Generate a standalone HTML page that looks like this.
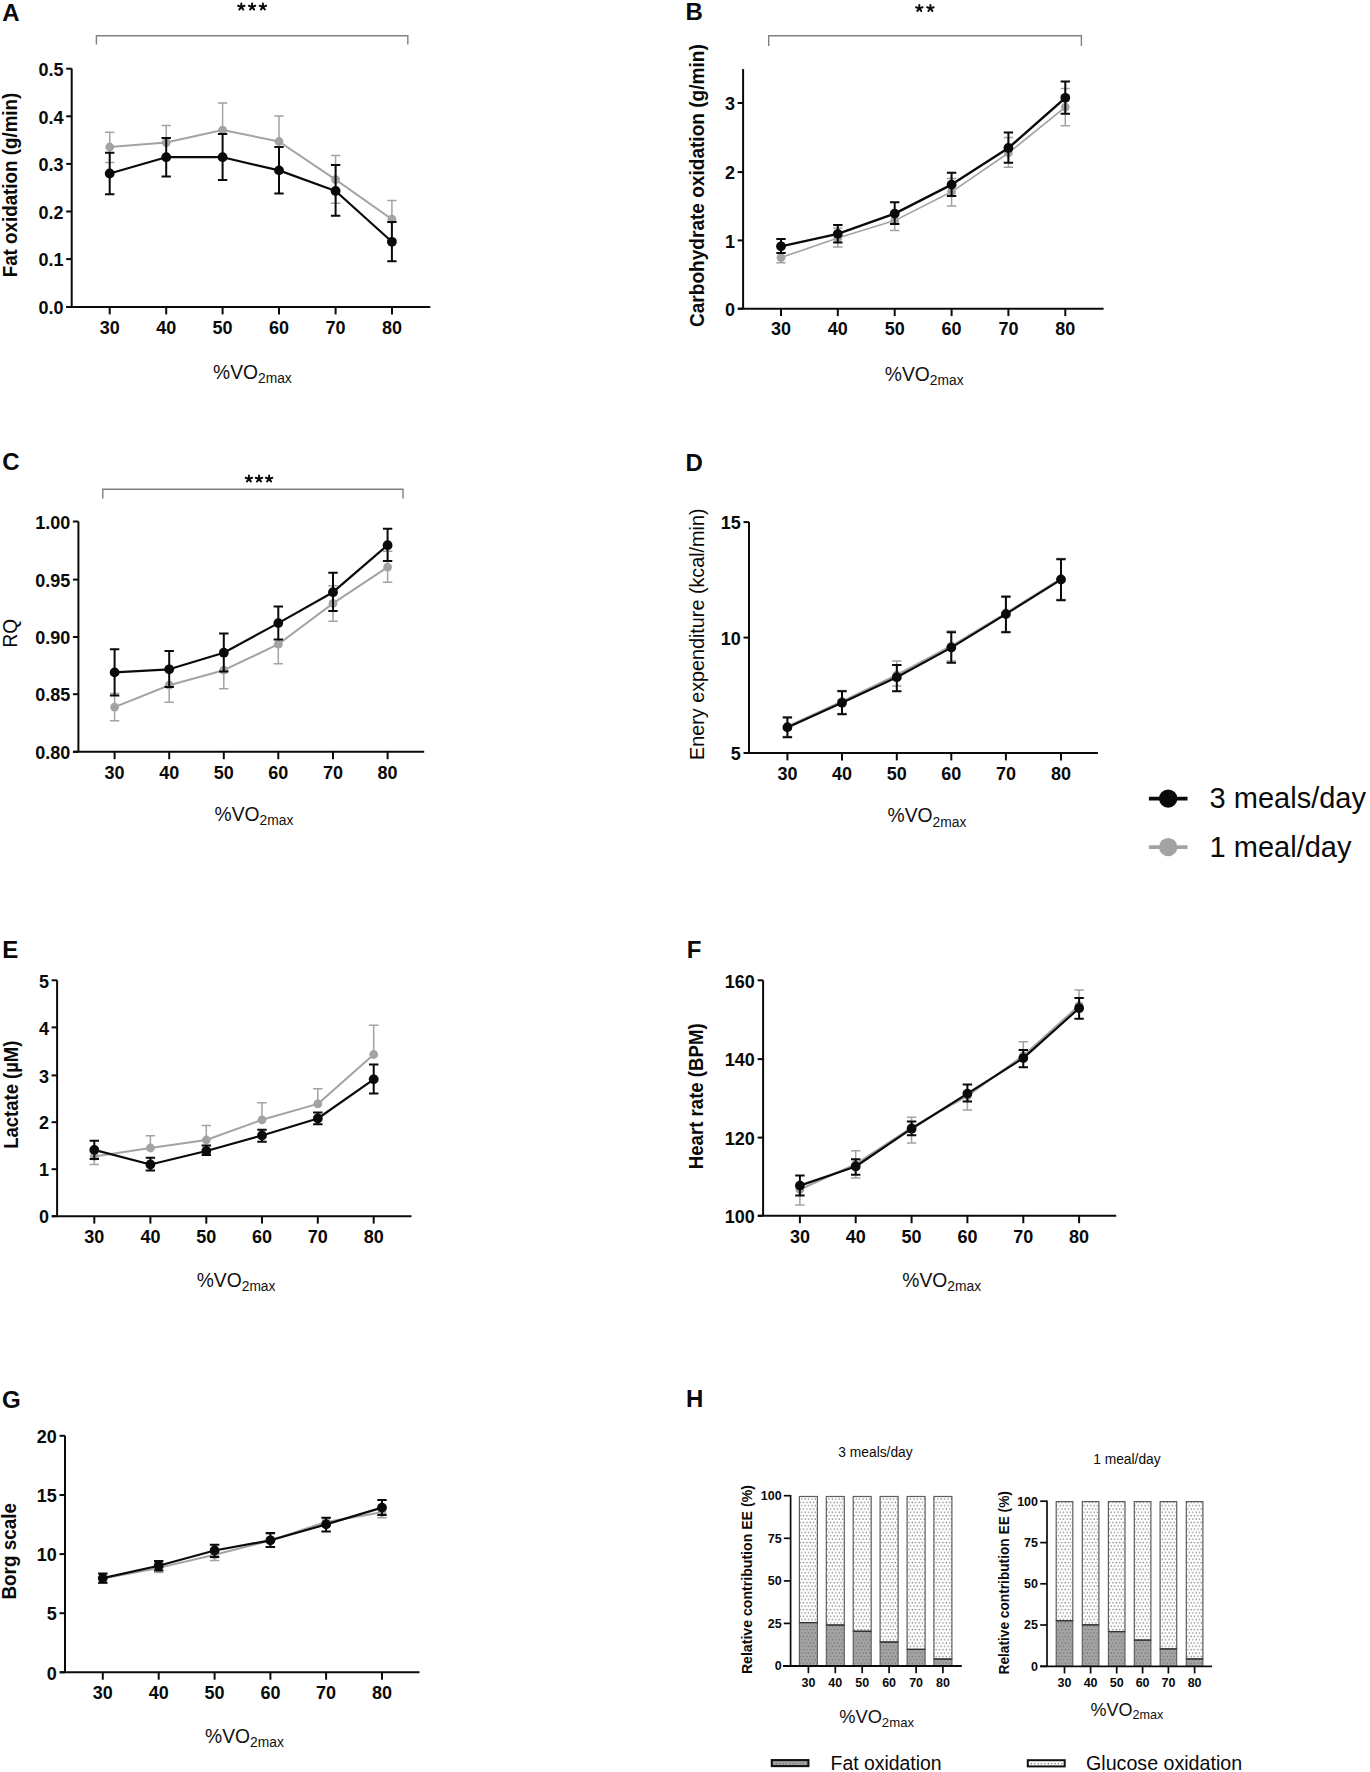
<!DOCTYPE html>
<html><head><meta charset="utf-8"><title>Figure</title>
<style>
html,body{margin:0;padding:0;background:#fff;width:1370px;height:1772px;overflow:hidden}
svg{display:block;font-family:"Liberation Sans",sans-serif}
</style></head><body>
<svg width="1370" height="1772" viewBox="0 0 1370 1772">
<rect width="1370" height="1772" fill="#ffffff"/>
<defs>
<pattern id="pg" x="0" y="0" width="3.4" height="6.7" patternUnits="userSpaceOnUse">
<rect width="3.4" height="6.7" fill="#ffffff"/>
<rect x="0.5" y="0.9" width="1.25" height="1.25" fill="#6e6e6e"/>
<rect x="2.2" y="4.25" width="1.25" height="1.25" fill="#6e6e6e"/>
</pattern>
<pattern id="pf" x="0" y="0" width="3.4" height="6.7" patternUnits="userSpaceOnUse">
<rect width="3.4" height="6.7" fill="#a4a4a4"/>
<rect x="0.5" y="0.9" width="1.2" height="1.2" fill="#6c6c6c"/>
<rect x="2.2" y="4.25" width="1.2" height="1.2" fill="#6c6c6c"/>
</pattern>
</defs>
<text x="686.0" y="1406.9" font-size="24" font-weight="700" text-anchor="start" fill="#0a0a0a" >H</text>
<rect x="799.4" y="1496.5" width="18.0" height="126.1" fill="url(#pg)" stroke="#5e5e5e" stroke-width="1.2"/>
<rect x="799.4" y="1622.6" width="18.0" height="43.4" fill="url(#pf)" stroke="#5a5a5a" stroke-width="1.1"/>
<path d="M799.4,1622.6 H817.4" stroke="#333" stroke-width="1.3"/>
<rect x="826.3" y="1496.5" width="18.0" height="128.6" fill="url(#pg)" stroke="#5e5e5e" stroke-width="1.2"/>
<rect x="826.3" y="1625.1" width="18.0" height="40.9" fill="url(#pf)" stroke="#5a5a5a" stroke-width="1.1"/>
<path d="M826.3,1625.1 H844.3" stroke="#333" stroke-width="1.3"/>
<rect x="853.2" y="1496.5" width="18.0" height="134.8" fill="url(#pg)" stroke="#5e5e5e" stroke-width="1.2"/>
<rect x="853.2" y="1631.3" width="18.0" height="34.7" fill="url(#pf)" stroke="#5a5a5a" stroke-width="1.1"/>
<path d="M853.2,1631.3 H871.2" stroke="#333" stroke-width="1.3"/>
<rect x="880.1" y="1496.5" width="18.0" height="145.6" fill="url(#pg)" stroke="#5e5e5e" stroke-width="1.2"/>
<rect x="880.1" y="1642.1" width="18.0" height="23.9" fill="url(#pf)" stroke="#5a5a5a" stroke-width="1.1"/>
<path d="M880.1,1642.1 H898.1" stroke="#333" stroke-width="1.3"/>
<rect x="907.1" y="1496.5" width="18.0" height="152.9" fill="url(#pg)" stroke="#5e5e5e" stroke-width="1.2"/>
<rect x="907.1" y="1649.4" width="18.0" height="16.6" fill="url(#pf)" stroke="#5a5a5a" stroke-width="1.1"/>
<path d="M907.1,1649.4 H925.1" stroke="#333" stroke-width="1.3"/>
<rect x="933.9" y="1496.5" width="18.0" height="162.6" fill="url(#pg)" stroke="#5e5e5e" stroke-width="1.2"/>
<rect x="933.9" y="1659.1" width="18.0" height="6.9" fill="url(#pf)" stroke="#5a5a5a" stroke-width="1.1"/>
<path d="M933.9,1659.1 H951.9" stroke="#333" stroke-width="1.3"/>
<path d="M790.6,1495.0 V1666.0" stroke="#0a0a0a" stroke-width="1.7" fill="none"/>
<path d="M783.0,1666.0 H961.8" stroke="#0a0a0a" stroke-width="1.8" fill="none"/>
<path d="M783.8,1495.7 H790.6" stroke="#0a0a0a" stroke-width="1.7"/>
<text x="781.6" y="1500.0" font-size="12.5" font-weight="700" text-anchor="end" fill="#0a0a0a" >100</text>
<path d="M783.8,1538.3 H790.6" stroke="#0a0a0a" stroke-width="1.7"/>
<text x="781.6" y="1542.6" font-size="12.5" font-weight="700" text-anchor="end" fill="#0a0a0a" >75</text>
<path d="M783.8,1580.9 H790.6" stroke="#0a0a0a" stroke-width="1.7"/>
<text x="781.6" y="1585.2" font-size="12.5" font-weight="700" text-anchor="end" fill="#0a0a0a" >50</text>
<path d="M783.8,1623.4 H790.6" stroke="#0a0a0a" stroke-width="1.7"/>
<text x="781.6" y="1627.7" font-size="12.5" font-weight="700" text-anchor="end" fill="#0a0a0a" >25</text>
<path d="M783.8,1666.0 H790.6" stroke="#0a0a0a" stroke-width="1.7"/>
<text x="781.6" y="1670.3" font-size="12.5" font-weight="700" text-anchor="end" fill="#0a0a0a" >0</text>
<path d="M808.4,1666.0 V1673.2" stroke="#0a0a0a" stroke-width="1.7"/>
<text x="808.4" y="1686.8" font-size="12.5" font-weight="700" text-anchor="middle" fill="#0a0a0a" >30</text>
<path d="M835.3,1666.0 V1673.2" stroke="#0a0a0a" stroke-width="1.7"/>
<text x="835.3" y="1686.8" font-size="12.5" font-weight="700" text-anchor="middle" fill="#0a0a0a" >40</text>
<path d="M862.2,1666.0 V1673.2" stroke="#0a0a0a" stroke-width="1.7"/>
<text x="862.2" y="1686.8" font-size="12.5" font-weight="700" text-anchor="middle" fill="#0a0a0a" >50</text>
<path d="M889.1,1666.0 V1673.2" stroke="#0a0a0a" stroke-width="1.7"/>
<text x="889.1" y="1686.8" font-size="12.5" font-weight="700" text-anchor="middle" fill="#0a0a0a" >60</text>
<path d="M916.1,1666.0 V1673.2" stroke="#0a0a0a" stroke-width="1.7"/>
<text x="916.1" y="1686.8" font-size="12.5" font-weight="700" text-anchor="middle" fill="#0a0a0a" >70</text>
<path d="M942.9,1666.0 V1673.2" stroke="#0a0a0a" stroke-width="1.7"/>
<text x="942.9" y="1686.8" font-size="12.5" font-weight="700" text-anchor="middle" fill="#0a0a0a" >80</text>
<text x="838.3" y="1457.1" font-size="13.8" font-weight="400" text-anchor="start" fill="#0a0a0a" >3 meals/day</text>
<text x="752.3" y="1579.6" font-size="14.2" font-weight="700" text-anchor="middle" fill="#0a0a0a" transform="rotate(-90 752.3 1579.6)" textLength="189" lengthAdjust="spacingAndGlyphs">Relative contribution EE (%)</text>
<text x="839.2" y="1723.0" font-size="18.3" fill="#111">%VO<tspan font-size="13.2" dy="4.1">2max</tspan></text>
<rect x="1056.2" y="1501.6" width="16.6" height="119.1" fill="url(#pg)" stroke="#5e5e5e" stroke-width="1.2"/>
<rect x="1056.2" y="1620.7" width="16.6" height="45.6" fill="url(#pf)" stroke="#5a5a5a" stroke-width="1.1"/>
<path d="M1056.2,1620.7 H1072.8" stroke="#333" stroke-width="1.3"/>
<rect x="1082.3" y="1501.6" width="16.6" height="123.3" fill="url(#pg)" stroke="#5e5e5e" stroke-width="1.2"/>
<rect x="1082.3" y="1624.9" width="16.6" height="41.4" fill="url(#pf)" stroke="#5a5a5a" stroke-width="1.1"/>
<path d="M1082.3,1624.9 H1098.9" stroke="#333" stroke-width="1.3"/>
<rect x="1108.4" y="1501.6" width="16.6" height="130.0" fill="url(#pg)" stroke="#5e5e5e" stroke-width="1.2"/>
<rect x="1108.4" y="1631.6" width="16.6" height="34.7" fill="url(#pf)" stroke="#5a5a5a" stroke-width="1.1"/>
<path d="M1108.4,1631.6 H1125.0" stroke="#333" stroke-width="1.3"/>
<rect x="1134.3" y="1501.6" width="16.6" height="138.6" fill="url(#pg)" stroke="#5e5e5e" stroke-width="1.2"/>
<rect x="1134.3" y="1640.2" width="16.6" height="26.1" fill="url(#pf)" stroke="#5a5a5a" stroke-width="1.1"/>
<path d="M1134.3,1640.2 H1150.9" stroke="#333" stroke-width="1.3"/>
<rect x="1160.1" y="1501.6" width="16.6" height="147.4" fill="url(#pg)" stroke="#5e5e5e" stroke-width="1.2"/>
<rect x="1160.1" y="1649.0" width="16.6" height="17.3" fill="url(#pf)" stroke="#5a5a5a" stroke-width="1.1"/>
<path d="M1160.1,1649.0 H1176.7" stroke="#333" stroke-width="1.3"/>
<rect x="1186.3" y="1501.6" width="16.6" height="157.4" fill="url(#pg)" stroke="#5e5e5e" stroke-width="1.2"/>
<rect x="1186.3" y="1659.0" width="16.6" height="7.3" fill="url(#pf)" stroke="#5a5a5a" stroke-width="1.1"/>
<path d="M1186.3,1659.0 H1202.9" stroke="#333" stroke-width="1.3"/>
<path d="M1047.0,1500.4 V1666.3" stroke="#0a0a0a" stroke-width="1.7" fill="none"/>
<path d="M1040.2,1666.3 H1212.1" stroke="#0a0a0a" stroke-width="1.8" fill="none"/>
<path d="M1040.2,1501.2 H1047.0" stroke="#0a0a0a" stroke-width="1.7"/>
<text x="1038.0" y="1505.5" font-size="12.5" font-weight="700" text-anchor="end" fill="#0a0a0a" >100</text>
<path d="M1040.2,1542.6 H1047.0" stroke="#0a0a0a" stroke-width="1.7"/>
<text x="1038.0" y="1546.9" font-size="12.5" font-weight="700" text-anchor="end" fill="#0a0a0a" >75</text>
<path d="M1040.2,1583.8 H1047.0" stroke="#0a0a0a" stroke-width="1.7"/>
<text x="1038.0" y="1588.1" font-size="12.5" font-weight="700" text-anchor="end" fill="#0a0a0a" >50</text>
<path d="M1040.2,1625.0 H1047.0" stroke="#0a0a0a" stroke-width="1.7"/>
<text x="1038.0" y="1629.3" font-size="12.5" font-weight="700" text-anchor="end" fill="#0a0a0a" >25</text>
<path d="M1040.2,1666.3 H1047.0" stroke="#0a0a0a" stroke-width="1.7"/>
<text x="1038.0" y="1670.6" font-size="12.5" font-weight="700" text-anchor="end" fill="#0a0a0a" >0</text>
<path d="M1064.5,1666.3 V1673.5" stroke="#0a0a0a" stroke-width="1.7"/>
<text x="1064.5" y="1687.1" font-size="12.5" font-weight="700" text-anchor="middle" fill="#0a0a0a" >30</text>
<path d="M1090.6,1666.3 V1673.5" stroke="#0a0a0a" stroke-width="1.7"/>
<text x="1090.6" y="1687.1" font-size="12.5" font-weight="700" text-anchor="middle" fill="#0a0a0a" >40</text>
<path d="M1116.7,1666.3 V1673.5" stroke="#0a0a0a" stroke-width="1.7"/>
<text x="1116.7" y="1687.1" font-size="12.5" font-weight="700" text-anchor="middle" fill="#0a0a0a" >50</text>
<path d="M1142.6,1666.3 V1673.5" stroke="#0a0a0a" stroke-width="1.7"/>
<text x="1142.6" y="1687.1" font-size="12.5" font-weight="700" text-anchor="middle" fill="#0a0a0a" >60</text>
<path d="M1168.4,1666.3 V1673.5" stroke="#0a0a0a" stroke-width="1.7"/>
<text x="1168.4" y="1687.1" font-size="12.5" font-weight="700" text-anchor="middle" fill="#0a0a0a" >70</text>
<path d="M1194.6,1666.3 V1673.5" stroke="#0a0a0a" stroke-width="1.7"/>
<text x="1194.6" y="1687.1" font-size="12.5" font-weight="700" text-anchor="middle" fill="#0a0a0a" >80</text>
<text x="1093.2" y="1463.8" font-size="13.8" font-weight="400" text-anchor="start" fill="#0a0a0a" >1 meal/day</text>
<text x="1009.5" y="1582.8" font-size="13.9" font-weight="700" text-anchor="middle" fill="#0a0a0a" transform="rotate(-90 1009.5 1582.8)" textLength="183.4" lengthAdjust="spacingAndGlyphs">Relative contribution EE (%)</text>
<text x="1090.4" y="1716.0" font-size="18" fill="#111">%VO<tspan font-size="12.6" dy="3.4">2max</tspan></text>
<rect x="771.8" y="1760.1" width="36.6" height="6.0" fill="url(#pf)" stroke="#111" stroke-width="2.1"/>
<text x="830.6" y="1769.7" font-size="19.4" font-weight="400" text-anchor="start" fill="#0a0a0a" >Fat oxidation</text>
<rect x="1027.8" y="1760.2" width="36.9" height="6.2" fill="url(#pg)" stroke="#111" stroke-width="2.0"/>
<text x="1086.0" y="1769.7" font-size="19.65" font-weight="400" text-anchor="start" fill="#0a0a0a" >Glucose oxidation</text>
<text x="2.2" y="20.5" font-size="24" font-weight="700" text-anchor="start" fill="#0a0a0a" >A</text>
<path d="M96.4,44.5 V35.7 H407.8 V44.5" stroke="#808080" stroke-width="1.4" fill="none"/>
<path d="M241.30,6.80 L241.30,3.35 M241.30,6.80 L238.02,5.73 M241.30,6.80 L239.27,9.59 M241.30,6.80 L243.33,9.59 M241.30,6.80 L244.58,5.73" stroke="#0a0a0a" stroke-width="1.9" stroke-linecap="round" fill="none"/>
<path d="M252.10,6.80 L252.10,3.35 M252.10,6.80 L248.82,5.73 M252.10,6.80 L250.07,9.59 M252.10,6.80 L254.13,9.59 M252.10,6.80 L255.38,5.73" stroke="#0a0a0a" stroke-width="1.9" stroke-linecap="round" fill="none"/>
<path d="M262.90,6.80 L262.90,3.35 M262.90,6.80 L259.62,5.73 M262.90,6.80 L260.87,9.59 M262.90,6.80 L264.93,9.59 M262.90,6.80 L266.18,5.73" stroke="#0a0a0a" stroke-width="1.9" stroke-linecap="round" fill="none"/>
<path d="M71.7,68.5 V307.0" stroke="#0a0a0a" stroke-width="2" fill="none"/>
<path d="M66.2,307.0 H430.3" stroke="#0a0a0a" stroke-width="2" fill="none"/>
<path d="M66.2,68.7 H71.7" stroke="#0a0a0a" stroke-width="2"/>
<text x="63.5" y="75.9" font-size="18" font-weight="700" text-anchor="end" fill="#0a0a0a" >0.5</text>
<path d="M66.2,116.3 H71.7" stroke="#0a0a0a" stroke-width="2"/>
<text x="63.5" y="123.5" font-size="18" font-weight="700" text-anchor="end" fill="#0a0a0a" >0.4</text>
<path d="M66.2,163.9 H71.7" stroke="#0a0a0a" stroke-width="2"/>
<text x="63.5" y="171.1" font-size="18" font-weight="700" text-anchor="end" fill="#0a0a0a" >0.3</text>
<path d="M66.2,211.5 H71.7" stroke="#0a0a0a" stroke-width="2"/>
<text x="63.5" y="218.7" font-size="18" font-weight="700" text-anchor="end" fill="#0a0a0a" >0.2</text>
<path d="M66.2,259.1 H71.7" stroke="#0a0a0a" stroke-width="2"/>
<text x="63.5" y="266.3" font-size="18" font-weight="700" text-anchor="end" fill="#0a0a0a" >0.1</text>
<path d="M66.2,307.0 H71.7" stroke="#0a0a0a" stroke-width="2"/>
<text x="63.5" y="314.2" font-size="18" font-weight="700" text-anchor="end" fill="#0a0a0a" >0.0</text>
<path d="M109.7,307.0 V314.4" stroke="#0a0a0a" stroke-width="2"/>
<text x="109.7" y="333.7" font-size="18" font-weight="700" text-anchor="middle" fill="#0a0a0a" >30</text>
<path d="M166.2,307.0 V314.4" stroke="#0a0a0a" stroke-width="2"/>
<text x="166.2" y="333.7" font-size="18" font-weight="700" text-anchor="middle" fill="#0a0a0a" >40</text>
<path d="M222.6,307.0 V314.4" stroke="#0a0a0a" stroke-width="2"/>
<text x="222.6" y="333.7" font-size="18" font-weight="700" text-anchor="middle" fill="#0a0a0a" >50</text>
<path d="M279.0,307.0 V314.4" stroke="#0a0a0a" stroke-width="2"/>
<text x="279.0" y="333.7" font-size="18" font-weight="700" text-anchor="middle" fill="#0a0a0a" >60</text>
<path d="M335.6,307.0 V314.4" stroke="#0a0a0a" stroke-width="2"/>
<text x="335.6" y="333.7" font-size="18" font-weight="700" text-anchor="middle" fill="#0a0a0a" >70</text>
<path d="M392.0,307.0 V314.4" stroke="#0a0a0a" stroke-width="2"/>
<text x="392.0" y="333.7" font-size="18" font-weight="700" text-anchor="middle" fill="#0a0a0a" >80</text>
<path d="M109.7,147.0 V132.2 M105.0,132.2 H114.4 M109.7,147.0 V162.4 M105.0,162.4 H114.4" stroke="#a3a3a3" stroke-width="1.5" fill="none"/>
<path d="M166.2,142.6 V125.4 M161.5,125.4 H170.9" stroke="#a3a3a3" stroke-width="1.5" fill="none"/>
<path d="M222.6,130.1 V103.0 M217.9,103.0 H227.3" stroke="#a3a3a3" stroke-width="1.5" fill="none"/>
<path d="M279.0,141.5 V116.1 M274.3,116.1 H283.7" stroke="#a3a3a3" stroke-width="1.5" fill="none"/>
<path d="M335.6,179.6 V155.4 M330.9,155.4 H340.3 M335.6,179.6 V203.2 M330.9,203.2 H340.3" stroke="#a3a3a3" stroke-width="1.5" fill="none"/>
<path d="M391.9,219.2 V200.4 M387.2,200.4 H396.6" stroke="#a3a3a3" stroke-width="1.5" fill="none"/>
<path d="M109.7,147.0 L166.2,142.6 L222.6,130.1 L279.0,141.5 L335.6,179.6 L391.9,219.2" stroke="#a3a3a3" stroke-width="2.0" fill="none" stroke-linejoin="round"/>
<circle cx="109.7" cy="147.0" r="4.4" fill="#a3a3a3"/>
<circle cx="166.2" cy="142.6" r="4.4" fill="#a3a3a3"/>
<circle cx="222.6" cy="130.1" r="4.4" fill="#a3a3a3"/>
<circle cx="279.0" cy="141.5" r="4.4" fill="#a3a3a3"/>
<circle cx="335.6" cy="179.6" r="4.4" fill="#a3a3a3"/>
<circle cx="391.9" cy="219.2" r="4.4" fill="#a3a3a3"/>
<path d="M109.7,173.5 V152.7 M105.0,152.7 H114.4 M109.7,173.5 V194.3 M105.0,194.3 H114.4" stroke="#0a0a0a" stroke-width="2.0" fill="none"/>
<path d="M166.2,157.2 V138.1 M161.5,138.1 H170.9 M166.2,157.2 V176.4 M161.5,176.4 H170.9" stroke="#0a0a0a" stroke-width="2.0" fill="none"/>
<path d="M222.6,157.2 V134.1 M217.9,134.1 H227.3 M222.6,157.2 V179.9 M217.9,179.9 H227.3" stroke="#0a0a0a" stroke-width="2.0" fill="none"/>
<path d="M279.0,170.4 V147.0 M274.3,147.0 H283.7 M279.0,170.4 V193.4 M274.3,193.4 H283.7" stroke="#0a0a0a" stroke-width="2.0" fill="none"/>
<path d="M335.6,191.0 V165.1 M330.9,165.1 H340.3 M335.6,191.0 V215.7 M330.9,215.7 H340.3" stroke="#0a0a0a" stroke-width="2.0" fill="none"/>
<path d="M391.9,241.8 V221.9 M387.2,221.9 H396.6 M391.9,241.8 V261.2 M387.2,261.2 H396.6" stroke="#0a0a0a" stroke-width="2.0" fill="none"/>
<path d="M109.7,173.5 L166.2,157.2 L222.6,157.2 L279.0,170.4 L335.6,191.0 L391.9,241.8" stroke="#0a0a0a" stroke-width="2.2" fill="none" stroke-linejoin="round"/>
<circle cx="109.7" cy="173.5" r="4.9" fill="#0a0a0a"/>
<circle cx="166.2" cy="157.2" r="4.9" fill="#0a0a0a"/>
<circle cx="222.6" cy="157.2" r="4.9" fill="#0a0a0a"/>
<circle cx="279.0" cy="170.4" r="4.9" fill="#0a0a0a"/>
<circle cx="335.6" cy="191.0" r="4.9" fill="#0a0a0a"/>
<circle cx="391.9" cy="241.8" r="4.9" fill="#0a0a0a"/>
<text x="16.9" y="185.0" font-size="20" font-weight="700" text-anchor="middle" fill="#0a0a0a" transform="rotate(-90 16.9 185.0)" textLength="184.6" lengthAdjust="spacingAndGlyphs">Fat oxidation (g/min)</text>
<text x="213.0" y="378.5" font-size="19.3" fill="#111">%VO<tspan font-size="13.8" dy="4.3">2max</tspan></text>
<text x="685.5" y="19.7" font-size="24" font-weight="700" text-anchor="start" fill="#0a0a0a" >B</text>
<path d="M768.7,46.0 V35.7 H1081.4 V46.0" stroke="#808080" stroke-width="1.4" fill="none"/>
<path d="M919.30,8.30 L919.30,4.85 M919.30,8.30 L916.02,7.23 M919.30,8.30 L917.27,11.09 M919.30,8.30 L921.33,11.09 M919.30,8.30 L922.58,7.23" stroke="#0a0a0a" stroke-width="1.9" stroke-linecap="round" fill="none"/>
<path d="M930.40,8.30 L930.40,4.85 M930.40,8.30 L927.12,7.23 M930.40,8.30 L928.37,11.09 M930.40,8.30 L932.43,11.09 M930.40,8.30 L933.68,7.23" stroke="#0a0a0a" stroke-width="1.9" stroke-linecap="round" fill="none"/>
<path d="M743.1,69.1 V308.7" stroke="#0a0a0a" stroke-width="2" fill="none"/>
<path d="M738.1,308.7 H1103.6" stroke="#0a0a0a" stroke-width="2" fill="none"/>
<path d="M737.6,103.0 H743.1" stroke="#0a0a0a" stroke-width="2"/>
<text x="734.9" y="110.2" font-size="18" font-weight="700" text-anchor="end" fill="#0a0a0a" >3</text>
<path d="M737.6,172.1 H743.1" stroke="#0a0a0a" stroke-width="2"/>
<text x="734.9" y="179.3" font-size="18" font-weight="700" text-anchor="end" fill="#0a0a0a" >2</text>
<path d="M737.6,240.4 H743.1" stroke="#0a0a0a" stroke-width="2"/>
<text x="734.9" y="247.6" font-size="18" font-weight="700" text-anchor="end" fill="#0a0a0a" >1</text>
<path d="M737.6,308.7 H743.1" stroke="#0a0a0a" stroke-width="2"/>
<text x="734.9" y="315.9" font-size="18" font-weight="700" text-anchor="end" fill="#0a0a0a" >0</text>
<path d="M781.0,308.7 V316.1" stroke="#0a0a0a" stroke-width="2"/>
<text x="781.0" y="335.4" font-size="18" font-weight="700" text-anchor="middle" fill="#0a0a0a" >30</text>
<path d="M837.8,308.7 V316.1" stroke="#0a0a0a" stroke-width="2"/>
<text x="837.8" y="335.4" font-size="18" font-weight="700" text-anchor="middle" fill="#0a0a0a" >40</text>
<path d="M894.7,308.7 V316.1" stroke="#0a0a0a" stroke-width="2"/>
<text x="894.7" y="335.4" font-size="18" font-weight="700" text-anchor="middle" fill="#0a0a0a" >50</text>
<path d="M951.6,308.7 V316.1" stroke="#0a0a0a" stroke-width="2"/>
<text x="951.6" y="335.4" font-size="18" font-weight="700" text-anchor="middle" fill="#0a0a0a" >60</text>
<path d="M1008.4,308.7 V316.1" stroke="#0a0a0a" stroke-width="2"/>
<text x="1008.4" y="335.4" font-size="18" font-weight="700" text-anchor="middle" fill="#0a0a0a" >70</text>
<path d="M1065.3,308.7 V316.1" stroke="#0a0a0a" stroke-width="2"/>
<text x="1065.3" y="335.4" font-size="18" font-weight="700" text-anchor="middle" fill="#0a0a0a" >80</text>
<path d="M781.0,257.6 V262.7 M776.3,262.7 H785.7" stroke="#a3a3a3" stroke-width="1.5" fill="none"/>
<path d="M837.8,238.1 V228.0 M833.1,228.0 H842.5 M837.8,238.1 V247.0 M833.1,247.0 H842.5" stroke="#a3a3a3" stroke-width="1.5" fill="none"/>
<path d="M894.7,220.6 V230.6 M890.0,230.6 H899.4" stroke="#a3a3a3" stroke-width="1.5" fill="none"/>
<path d="M951.6,191.8 V178.6 M946.9,178.6 H956.3 M951.6,191.8 V206.0 M946.9,206.0 H956.3" stroke="#a3a3a3" stroke-width="1.5" fill="none"/>
<path d="M1008.4,153.0 V137.6 M1003.7,137.6 H1013.1 M1008.4,153.0 V167.3 M1003.7,167.3 H1013.1" stroke="#a3a3a3" stroke-width="1.5" fill="none"/>
<path d="M1065.3,107.1 V88.6 M1060.6,88.6 H1070.0 M1065.3,107.1 V125.7 M1060.6,125.7 H1070.0" stroke="#a3a3a3" stroke-width="1.5" fill="none"/>
<path d="M781.0,257.6 L837.8,238.1 L894.7,220.6 L951.6,191.8 L1008.4,153.0 L1065.3,107.1" stroke="#a3a3a3" stroke-width="1.6" fill="none" stroke-linejoin="round"/>
<circle cx="781.0" cy="257.6" r="4.4" fill="#a3a3a3"/>
<circle cx="837.8" cy="238.1" r="4.4" fill="#a3a3a3"/>
<circle cx="894.7" cy="220.6" r="4.4" fill="#a3a3a3"/>
<circle cx="951.6" cy="191.8" r="4.4" fill="#a3a3a3"/>
<circle cx="1008.4" cy="153.0" r="4.4" fill="#a3a3a3"/>
<circle cx="1065.3" cy="107.1" r="4.4" fill="#a3a3a3"/>
<path d="M781.0,246.3 V239.0 M776.3,239.0 H785.7 M781.0,246.3 V253.0 M776.3,253.0 H785.7" stroke="#0a0a0a" stroke-width="2.0" fill="none"/>
<path d="M837.8,233.9 V225.1 M833.1,225.1 H842.5 M837.8,233.9 V242.4 M833.1,242.4 H842.5" stroke="#0a0a0a" stroke-width="2.0" fill="none"/>
<path d="M894.7,213.6 V202.3 M890.0,202.3 H899.4 M894.7,213.6 V223.9 M890.0,223.9 H899.4" stroke="#0a0a0a" stroke-width="2.0" fill="none"/>
<path d="M951.6,184.6 V172.8 M946.9,172.8 H956.3 M951.6,184.6 V196.0 M946.9,196.0 H956.3" stroke="#0a0a0a" stroke-width="2.0" fill="none"/>
<path d="M1008.4,148.0 V132.4 M1003.7,132.4 H1013.1 M1008.4,148.0 V162.7 M1003.7,162.7 H1013.1" stroke="#0a0a0a" stroke-width="2.0" fill="none"/>
<path d="M1065.3,97.8 V81.5 M1060.6,81.5 H1070.0 M1065.3,97.8 V113.8 M1060.6,113.8 H1070.0" stroke="#0a0a0a" stroke-width="2.0" fill="none"/>
<path d="M781.0,246.3 L837.8,233.9 L894.7,213.6 L951.6,184.6 L1008.4,148.0 L1065.3,97.8" stroke="#0a0a0a" stroke-width="2.4" fill="none" stroke-linejoin="round"/>
<circle cx="781.0" cy="246.3" r="4.9" fill="#0a0a0a"/>
<circle cx="837.8" cy="233.9" r="4.9" fill="#0a0a0a"/>
<circle cx="894.7" cy="213.6" r="4.9" fill="#0a0a0a"/>
<circle cx="951.6" cy="184.6" r="4.9" fill="#0a0a0a"/>
<circle cx="1008.4" cy="148.0" r="4.9" fill="#0a0a0a"/>
<circle cx="1065.3" cy="97.8" r="4.9" fill="#0a0a0a"/>
<text x="703.6" y="185.6" font-size="20" font-weight="700" text-anchor="middle" fill="#0a0a0a" transform="rotate(-90 703.6 185.6)" textLength="282.8" lengthAdjust="spacingAndGlyphs">Carbohydrate oxidation (g/min)</text>
<text x="884.8" y="380.5" font-size="19.3" fill="#111">%VO<tspan font-size="13.8" dy="4.3">2max</tspan></text>
<text x="2.2" y="470.0" font-size="24" font-weight="700" text-anchor="start" fill="#0a0a0a" >C</text>
<path d="M102.8,498.5 V489.3 H403.0 V498.5" stroke="#808080" stroke-width="1.4" fill="none"/>
<path d="M248.90,478.80 L248.90,475.35 M248.90,478.80 L245.62,477.73 M248.90,478.80 L246.87,481.59 M248.90,478.80 L250.93,481.59 M248.90,478.80 L252.18,477.73" stroke="#0a0a0a" stroke-width="1.9" stroke-linecap="round" fill="none"/>
<path d="M259.00,478.80 L259.00,475.35 M259.00,478.80 L255.72,477.73 M259.00,478.80 L256.97,481.59 M259.00,478.80 L261.03,481.59 M259.00,478.80 L262.28,477.73" stroke="#0a0a0a" stroke-width="1.9" stroke-linecap="round" fill="none"/>
<path d="M269.10,478.80 L269.10,475.35 M269.10,478.80 L265.82,477.73 M269.10,478.80 L267.07,481.59 M269.10,478.80 L271.13,481.59 M269.10,478.80 L272.38,477.73" stroke="#0a0a0a" stroke-width="1.9" stroke-linecap="round" fill="none"/>
<path d="M78.4,521.5 V751.8" stroke="#0a0a0a" stroke-width="2" fill="none"/>
<path d="M73.0,751.8 H424.2" stroke="#0a0a0a" stroke-width="2" fill="none"/>
<path d="M72.9,521.5 H78.4" stroke="#0a0a0a" stroke-width="2"/>
<text x="70.2" y="528.7" font-size="18" font-weight="700" text-anchor="end" fill="#0a0a0a" >1.00</text>
<path d="M72.9,579.6 H78.4" stroke="#0a0a0a" stroke-width="2"/>
<text x="70.2" y="586.8" font-size="18" font-weight="700" text-anchor="end" fill="#0a0a0a" >0.95</text>
<path d="M72.9,637.0 H78.4" stroke="#0a0a0a" stroke-width="2"/>
<text x="70.2" y="644.2" font-size="18" font-weight="700" text-anchor="end" fill="#0a0a0a" >0.90</text>
<path d="M72.9,694.2 H78.4" stroke="#0a0a0a" stroke-width="2"/>
<text x="70.2" y="701.4" font-size="18" font-weight="700" text-anchor="end" fill="#0a0a0a" >0.85</text>
<path d="M72.9,751.8 H78.4" stroke="#0a0a0a" stroke-width="2"/>
<text x="70.2" y="759.0" font-size="18" font-weight="700" text-anchor="end" fill="#0a0a0a" >0.80</text>
<path d="M114.6,751.8 V759.2" stroke="#0a0a0a" stroke-width="2"/>
<text x="114.6" y="778.5" font-size="18" font-weight="700" text-anchor="middle" fill="#0a0a0a" >30</text>
<path d="M169.2,751.8 V759.2" stroke="#0a0a0a" stroke-width="2"/>
<text x="169.2" y="778.5" font-size="18" font-weight="700" text-anchor="middle" fill="#0a0a0a" >40</text>
<path d="M223.8,751.8 V759.2" stroke="#0a0a0a" stroke-width="2"/>
<text x="223.8" y="778.5" font-size="18" font-weight="700" text-anchor="middle" fill="#0a0a0a" >50</text>
<path d="M278.3,751.8 V759.2" stroke="#0a0a0a" stroke-width="2"/>
<text x="278.3" y="778.5" font-size="18" font-weight="700" text-anchor="middle" fill="#0a0a0a" >60</text>
<path d="M333.0,751.8 V759.2" stroke="#0a0a0a" stroke-width="2"/>
<text x="333.0" y="778.5" font-size="18" font-weight="700" text-anchor="middle" fill="#0a0a0a" >70</text>
<path d="M387.6,751.8 V759.2" stroke="#0a0a0a" stroke-width="2"/>
<text x="387.6" y="778.5" font-size="18" font-weight="700" text-anchor="middle" fill="#0a0a0a" >80</text>
<path d="M114.6,707.1 V693.4 M109.9,693.4 H119.3 M114.6,707.1 V720.8 M109.9,720.8 H119.3" stroke="#a3a3a3" stroke-width="1.5" fill="none"/>
<path d="M169.2,685.2 V702.2 M164.5,702.2 H173.9" stroke="#a3a3a3" stroke-width="1.5" fill="none"/>
<path d="M223.8,670.2 V688.8 M219.1,688.8 H228.5" stroke="#a3a3a3" stroke-width="1.5" fill="none"/>
<path d="M278.3,644.2 V663.8 M273.6,663.8 H283.0" stroke="#a3a3a3" stroke-width="1.5" fill="none"/>
<path d="M333.0,603.4 V585.8 M328.3,585.8 H337.7 M333.0,603.4 V621.2 M328.3,621.2 H337.7" stroke="#a3a3a3" stroke-width="1.5" fill="none"/>
<path d="M387.6,567.1 V551.2 M382.9,551.2 H392.3 M387.6,567.1 V582.3 M382.9,582.3 H392.3" stroke="#a3a3a3" stroke-width="1.5" fill="none"/>
<path d="M114.6,707.1 L169.2,685.2 L223.8,670.2 L278.3,644.2 L333.0,603.4 L387.6,567.1" stroke="#a3a3a3" stroke-width="2.0" fill="none" stroke-linejoin="round"/>
<circle cx="114.6" cy="707.1" r="4.4" fill="#a3a3a3"/>
<circle cx="169.2" cy="685.2" r="4.4" fill="#a3a3a3"/>
<circle cx="223.8" cy="670.2" r="4.4" fill="#a3a3a3"/>
<circle cx="278.3" cy="644.2" r="4.4" fill="#a3a3a3"/>
<circle cx="333.0" cy="603.4" r="4.4" fill="#a3a3a3"/>
<circle cx="387.6" cy="567.1" r="4.4" fill="#a3a3a3"/>
<path d="M114.6,672.4 V649.3 M109.9,649.3 H119.3 M114.6,672.4 V695.6 M109.9,695.6 H119.3" stroke="#0a0a0a" stroke-width="2.0" fill="none"/>
<path d="M169.2,669.3 V651.1 M164.5,651.1 H173.9 M169.2,669.3 V687.0 M164.5,687.0 H173.9" stroke="#0a0a0a" stroke-width="2.0" fill="none"/>
<path d="M223.8,652.7 V633.6 M219.1,633.6 H228.5 M223.8,652.7 V671.4 M219.1,671.4 H228.5" stroke="#0a0a0a" stroke-width="2.0" fill="none"/>
<path d="M278.3,623.1 V606.4 M273.6,606.4 H283.0 M278.3,623.1 V639.6 M273.6,639.6 H283.0" stroke="#0a0a0a" stroke-width="2.0" fill="none"/>
<path d="M333.0,592.2 V572.8 M328.3,572.8 H337.7 M333.0,592.2 V611.1 M328.3,611.1 H337.7" stroke="#0a0a0a" stroke-width="2.0" fill="none"/>
<path d="M387.6,545.2 V528.8 M382.9,528.8 H392.3 M387.6,545.2 V561.0 M382.9,561.0 H392.3" stroke="#0a0a0a" stroke-width="2.0" fill="none"/>
<path d="M114.6,672.4 L169.2,669.3 L223.8,652.7 L278.3,623.1 L333.0,592.2 L387.6,545.2" stroke="#0a0a0a" stroke-width="2.2" fill="none" stroke-linejoin="round"/>
<circle cx="114.6" cy="672.4" r="4.9" fill="#0a0a0a"/>
<circle cx="169.2" cy="669.3" r="4.9" fill="#0a0a0a"/>
<circle cx="223.8" cy="652.7" r="4.9" fill="#0a0a0a"/>
<circle cx="278.3" cy="623.1" r="4.9" fill="#0a0a0a"/>
<circle cx="333.0" cy="592.2" r="4.9" fill="#0a0a0a"/>
<circle cx="387.6" cy="545.2" r="4.9" fill="#0a0a0a"/>
<text x="16.6" y="633.3" font-size="20" font-weight="400" text-anchor="middle" fill="#0a0a0a" transform="rotate(-90 16.6 633.3)" textLength="28.6" lengthAdjust="spacingAndGlyphs">RQ</text>
<text x="214.6" y="820.5" font-size="19.3" fill="#111">%VO<tspan font-size="13.8" dy="4.3">2max</tspan></text>
<text x="685.5" y="471.0" font-size="24" font-weight="700" text-anchor="start" fill="#0a0a0a" >D</text>
<path d="M749.0,522.1 V753.0" stroke="#0a0a0a" stroke-width="2" fill="none"/>
<path d="M744.0,753.0 H1097.9" stroke="#0a0a0a" stroke-width="2" fill="none"/>
<path d="M743.5,522.1 H749.0" stroke="#0a0a0a" stroke-width="2"/>
<text x="740.8" y="529.3" font-size="18" font-weight="700" text-anchor="end" fill="#0a0a0a" >15</text>
<path d="M743.5,637.6 H749.0" stroke="#0a0a0a" stroke-width="2"/>
<text x="740.8" y="644.8" font-size="18" font-weight="700" text-anchor="end" fill="#0a0a0a" >10</text>
<path d="M743.5,753.0 H749.0" stroke="#0a0a0a" stroke-width="2"/>
<text x="740.8" y="760.2" font-size="18" font-weight="700" text-anchor="end" fill="#0a0a0a" >5</text>
<path d="M787.4,753.0 V760.4" stroke="#0a0a0a" stroke-width="2"/>
<text x="787.4" y="779.7" font-size="18" font-weight="700" text-anchor="middle" fill="#0a0a0a" >30</text>
<path d="M842.0,753.0 V760.4" stroke="#0a0a0a" stroke-width="2"/>
<text x="842.0" y="779.7" font-size="18" font-weight="700" text-anchor="middle" fill="#0a0a0a" >40</text>
<path d="M896.8,753.0 V760.4" stroke="#0a0a0a" stroke-width="2"/>
<text x="896.8" y="779.7" font-size="18" font-weight="700" text-anchor="middle" fill="#0a0a0a" >50</text>
<path d="M951.3,753.0 V760.4" stroke="#0a0a0a" stroke-width="2"/>
<text x="951.3" y="779.7" font-size="18" font-weight="700" text-anchor="middle" fill="#0a0a0a" >60</text>
<path d="M1005.9,753.0 V760.4" stroke="#0a0a0a" stroke-width="2"/>
<text x="1005.9" y="779.7" font-size="18" font-weight="700" text-anchor="middle" fill="#0a0a0a" >70</text>
<path d="M1061.0,753.0 V760.4" stroke="#0a0a0a" stroke-width="2"/>
<text x="1061.0" y="779.7" font-size="18" font-weight="700" text-anchor="middle" fill="#0a0a0a" >80</text>
<path d="M787.4,726.5 V717.0 M782.7,717.0 H792.1 M787.4,726.5 V736.5 M782.7,736.5 H792.1" stroke="#a3a3a3" stroke-width="1.5" fill="none"/>
<path d="M842.0,701.5 V690.5 M837.3,690.5 H846.7 M842.0,701.5 V713.5 M837.3,713.5 H846.7" stroke="#a3a3a3" stroke-width="1.5" fill="none"/>
<path d="M896.8,675.0 V661.0 M892.1,661.0 H901.5 M896.8,675.0 V686.0 M892.1,686.0 H901.5" stroke="#a3a3a3" stroke-width="1.5" fill="none"/>
<path d="M951.3,646.0 V631.0 M946.6,631.0 H956.0 M951.3,646.0 V661.0 M946.6,661.0 H956.0" stroke="#a3a3a3" stroke-width="1.5" fill="none"/>
<path d="M1005.9,613.0 V596.0 M1001.2,596.0 H1010.6 M1005.9,613.0 V631.5 M1001.2,631.5 H1010.6" stroke="#a3a3a3" stroke-width="1.5" fill="none"/>
<path d="M1061.0,578.5 V558.5 M1056.3,558.5 H1065.7 M1061.0,578.5 V599.5 M1056.3,599.5 H1065.7" stroke="#a3a3a3" stroke-width="1.5" fill="none"/>
<path d="M787.4,726.5 L842.0,701.5 L896.8,675.0 L951.3,646.0 L1005.9,613.0 L1061.0,578.5" stroke="#a3a3a3" stroke-width="2.0" fill="none" stroke-linejoin="round"/>
<circle cx="787.4" cy="726.5" r="4.4" fill="#a3a3a3"/>
<circle cx="842.0" cy="701.5" r="4.4" fill="#a3a3a3"/>
<circle cx="896.8" cy="675.0" r="4.4" fill="#a3a3a3"/>
<circle cx="951.3" cy="646.0" r="4.4" fill="#a3a3a3"/>
<circle cx="1005.9" cy="613.0" r="4.4" fill="#a3a3a3"/>
<circle cx="1061.0" cy="578.5" r="4.4" fill="#a3a3a3"/>
<path d="M787.4,727.4 V717.6 M782.7,717.6 H792.1 M787.4,727.4 V737.3 M782.7,737.3 H792.1" stroke="#0a0a0a" stroke-width="2.0" fill="none"/>
<path d="M842.0,702.8 V691.3 M837.3,691.3 H846.7 M842.0,702.8 V714.3 M837.3,714.3 H846.7" stroke="#0a0a0a" stroke-width="2.0" fill="none"/>
<path d="M896.8,677.2 V665.0 M892.1,665.0 H901.5 M896.8,677.2 V691.3 M892.1,691.3 H901.5" stroke="#0a0a0a" stroke-width="2.0" fill="none"/>
<path d="M951.3,647.6 V632.2 M946.6,632.2 H956.0 M951.3,647.6 V662.7 M946.6,662.7 H956.0" stroke="#0a0a0a" stroke-width="2.0" fill="none"/>
<path d="M1005.9,614.1 V596.7 M1001.2,596.7 H1010.6 M1005.9,614.1 V632.2 M1001.2,632.2 H1010.6" stroke="#0a0a0a" stroke-width="2.0" fill="none"/>
<path d="M1061.0,579.6 V559.2 M1056.3,559.2 H1065.7 M1061.0,579.6 V600.3 M1056.3,600.3 H1065.7" stroke="#0a0a0a" stroke-width="2.0" fill="none"/>
<path d="M787.4,727.4 L842.0,702.8 L896.8,677.2 L951.3,647.6 L1005.9,614.1 L1061.0,579.6" stroke="#0a0a0a" stroke-width="2.2" fill="none" stroke-linejoin="round"/>
<circle cx="787.4" cy="727.4" r="4.9" fill="#0a0a0a"/>
<circle cx="842.0" cy="702.8" r="4.9" fill="#0a0a0a"/>
<circle cx="896.8" cy="677.2" r="4.9" fill="#0a0a0a"/>
<circle cx="951.3" cy="647.6" r="4.9" fill="#0a0a0a"/>
<circle cx="1005.9" cy="614.1" r="4.9" fill="#0a0a0a"/>
<circle cx="1061.0" cy="579.6" r="4.9" fill="#0a0a0a"/>
<text x="703.6" y="634.2" font-size="20" font-weight="400" text-anchor="middle" fill="#0a0a0a" transform="rotate(-90 703.6 634.2)" textLength="251.5" lengthAdjust="spacingAndGlyphs">Enery expenditure (kcal/min)</text>
<text x="887.6" y="822.4" font-size="19.3" fill="#111">%VO<tspan font-size="13.8" dy="4.3">2max</tspan></text>
<path d="M1148.9,798.6 H1187.5" stroke="#0a0a0a" stroke-width="3.6"/>
<circle cx="1168.2" cy="798.6" r="9.2" fill="#0a0a0a"/>
<text x="1209.6" y="808.2" font-size="29" font-weight="400" text-anchor="start" fill="#0a0a0a" >3 meals/day</text>
<path d="M1148.9,847.1 H1187.5" stroke="#a3a3a3" stroke-width="3.6"/>
<circle cx="1168.2" cy="847.1" r="9.2" fill="#a3a3a3"/>
<text x="1209.6" y="856.7" font-size="29" font-weight="400" text-anchor="start" fill="#0a0a0a" >1 meal/day</text>
<text x="2.2" y="958.0" font-size="24" font-weight="700" text-anchor="start" fill="#0a0a0a" >E</text>
<path d="M57.1,980.3 V1216.2" stroke="#0a0a0a" stroke-width="2" fill="none"/>
<path d="M52.0,1216.2 H411.5" stroke="#0a0a0a" stroke-width="2" fill="none"/>
<path d="M51.6,980.3 H57.1" stroke="#0a0a0a" stroke-width="2"/>
<text x="48.9" y="987.5" font-size="18" font-weight="700" text-anchor="end" fill="#0a0a0a" >5</text>
<path d="M51.6,1027.4 H57.1" stroke="#0a0a0a" stroke-width="2"/>
<text x="48.9" y="1034.6" font-size="18" font-weight="700" text-anchor="end" fill="#0a0a0a" >4</text>
<path d="M51.6,1075.4 H57.1" stroke="#0a0a0a" stroke-width="2"/>
<text x="48.9" y="1082.6" font-size="18" font-weight="700" text-anchor="end" fill="#0a0a0a" >3</text>
<path d="M51.6,1122.2 H57.1" stroke="#0a0a0a" stroke-width="2"/>
<text x="48.9" y="1129.4" font-size="18" font-weight="700" text-anchor="end" fill="#0a0a0a" >2</text>
<path d="M51.6,1169.2 H57.1" stroke="#0a0a0a" stroke-width="2"/>
<text x="48.9" y="1176.4" font-size="18" font-weight="700" text-anchor="end" fill="#0a0a0a" >1</text>
<path d="M51.6,1216.2 H57.1" stroke="#0a0a0a" stroke-width="2"/>
<text x="48.9" y="1223.4" font-size="18" font-weight="700" text-anchor="end" fill="#0a0a0a" >0</text>
<path d="M94.3,1216.2 V1223.6" stroke="#0a0a0a" stroke-width="2"/>
<text x="94.3" y="1242.9" font-size="18" font-weight="700" text-anchor="middle" fill="#0a0a0a" >30</text>
<path d="M150.4,1216.2 V1223.6" stroke="#0a0a0a" stroke-width="2"/>
<text x="150.4" y="1242.9" font-size="18" font-weight="700" text-anchor="middle" fill="#0a0a0a" >40</text>
<path d="M206.3,1216.2 V1223.6" stroke="#0a0a0a" stroke-width="2"/>
<text x="206.3" y="1242.9" font-size="18" font-weight="700" text-anchor="middle" fill="#0a0a0a" >50</text>
<path d="M262.0,1216.2 V1223.6" stroke="#0a0a0a" stroke-width="2"/>
<text x="262.0" y="1242.9" font-size="18" font-weight="700" text-anchor="middle" fill="#0a0a0a" >60</text>
<path d="M317.8,1216.2 V1223.6" stroke="#0a0a0a" stroke-width="2"/>
<text x="317.8" y="1242.9" font-size="18" font-weight="700" text-anchor="middle" fill="#0a0a0a" >70</text>
<path d="M373.7,1216.2 V1223.6" stroke="#0a0a0a" stroke-width="2"/>
<text x="373.7" y="1242.9" font-size="18" font-weight="700" text-anchor="middle" fill="#0a0a0a" >80</text>
<path d="M94.3,1156.5 V1164.5 M89.6,1164.5 H99.0" stroke="#a3a3a3" stroke-width="1.5" fill="none"/>
<path d="M150.4,1148.0 V1135.8 M145.7,1135.8 H155.1" stroke="#a3a3a3" stroke-width="1.5" fill="none"/>
<path d="M206.3,1140.0 V1125.5 M201.6,1125.5 H211.0" stroke="#a3a3a3" stroke-width="1.5" fill="none"/>
<path d="M262.0,1119.8 V1102.7 M257.3,1102.7 H266.7" stroke="#a3a3a3" stroke-width="1.5" fill="none"/>
<path d="M317.8,1103.9 V1088.8 M313.1,1088.8 H322.5" stroke="#a3a3a3" stroke-width="1.5" fill="none"/>
<path d="M373.7,1054.5 V1025.3 M369.0,1025.3 H378.4" stroke="#a3a3a3" stroke-width="1.5" fill="none"/>
<path d="M94.3,1156.5 L150.4,1148.0 L206.3,1140.0 L262.0,1119.8 L317.8,1103.9 L373.7,1054.5" stroke="#a3a3a3" stroke-width="2.0" fill="none" stroke-linejoin="round"/>
<circle cx="94.3" cy="1156.5" r="4.4" fill="#a3a3a3"/>
<circle cx="150.4" cy="1148.0" r="4.4" fill="#a3a3a3"/>
<circle cx="206.3" cy="1140.0" r="4.4" fill="#a3a3a3"/>
<circle cx="262.0" cy="1119.8" r="4.4" fill="#a3a3a3"/>
<circle cx="317.8" cy="1103.9" r="4.4" fill="#a3a3a3"/>
<circle cx="373.7" cy="1054.5" r="4.4" fill="#a3a3a3"/>
<path d="M94.3,1149.9 V1140.7 M89.6,1140.7 H99.0 M94.3,1149.9 V1159.0 M89.6,1159.0 H99.0" stroke="#0a0a0a" stroke-width="2.0" fill="none"/>
<path d="M150.4,1164.5 V1157.7 M145.7,1157.7 H155.1 M150.4,1164.5 V1170.4 M145.7,1170.4 H155.1" stroke="#0a0a0a" stroke-width="2.0" fill="none"/>
<path d="M206.3,1151.0 V1145.5 M201.6,1145.5 H211.0 M206.3,1151.0 V1155.0 M201.6,1155.0 H211.0" stroke="#0a0a0a" stroke-width="2.0" fill="none"/>
<path d="M262.0,1135.5 V1129.7 M257.3,1129.7 H266.7 M262.0,1135.5 V1141.8 M257.3,1141.8 H266.7" stroke="#0a0a0a" stroke-width="2.0" fill="none"/>
<path d="M317.8,1118.5 V1112.6 M313.1,1112.6 H322.5 M317.8,1118.5 V1124.2 M313.1,1124.2 H322.5" stroke="#0a0a0a" stroke-width="2.0" fill="none"/>
<path d="M373.7,1079.3 V1064.5 M369.0,1064.5 H378.4 M373.7,1079.3 V1093.6 M369.0,1093.6 H378.4" stroke="#0a0a0a" stroke-width="2.0" fill="none"/>
<path d="M94.3,1149.9 L150.4,1164.5 L206.3,1151.0 L262.0,1135.5 L317.8,1118.5 L373.7,1079.3" stroke="#0a0a0a" stroke-width="2.2" fill="none" stroke-linejoin="round"/>
<circle cx="94.3" cy="1149.9" r="4.9" fill="#0a0a0a"/>
<circle cx="150.4" cy="1164.5" r="4.9" fill="#0a0a0a"/>
<circle cx="206.3" cy="1151.0" r="4.9" fill="#0a0a0a"/>
<circle cx="262.0" cy="1135.5" r="4.9" fill="#0a0a0a"/>
<circle cx="317.8" cy="1118.5" r="4.9" fill="#0a0a0a"/>
<circle cx="373.7" cy="1079.3" r="4.9" fill="#0a0a0a"/>
<text x="18.0" y="1094.7" font-size="20" font-weight="700" text-anchor="middle" fill="#0a0a0a" transform="rotate(-90 18.0 1094.7)" textLength="108.2" lengthAdjust="spacingAndGlyphs">Lactate (µM)</text>
<text x="196.7" y="1286.7" font-size="19.3" fill="#111">%VO<tspan font-size="13.8" dy="4.3">2max</tspan></text>
<text x="686.8" y="958.0" font-size="24" font-weight="700" text-anchor="start" fill="#0a0a0a" >F</text>
<path d="M763.1,980.3 V1215.8" stroke="#0a0a0a" stroke-width="2" fill="none"/>
<path d="M758.0,1215.8 H1116.2" stroke="#0a0a0a" stroke-width="2" fill="none"/>
<path d="M757.6,980.3 H763.1" stroke="#0a0a0a" stroke-width="2"/>
<text x="754.9" y="987.5" font-size="18" font-weight="700" text-anchor="end" fill="#0a0a0a" >160</text>
<path d="M757.6,1059.1 H763.1" stroke="#0a0a0a" stroke-width="2"/>
<text x="754.9" y="1066.3" font-size="18" font-weight="700" text-anchor="end" fill="#0a0a0a" >140</text>
<path d="M757.6,1137.6 H763.1" stroke="#0a0a0a" stroke-width="2"/>
<text x="754.9" y="1144.8" font-size="18" font-weight="700" text-anchor="end" fill="#0a0a0a" >120</text>
<path d="M757.6,1215.8 H763.1" stroke="#0a0a0a" stroke-width="2"/>
<text x="754.9" y="1223.0" font-size="18" font-weight="700" text-anchor="end" fill="#0a0a0a" >100</text>
<path d="M799.9,1215.8 V1223.2" stroke="#0a0a0a" stroke-width="2"/>
<text x="799.9" y="1242.5" font-size="18" font-weight="700" text-anchor="middle" fill="#0a0a0a" >30</text>
<path d="M855.7,1215.8 V1223.2" stroke="#0a0a0a" stroke-width="2"/>
<text x="855.7" y="1242.5" font-size="18" font-weight="700" text-anchor="middle" fill="#0a0a0a" >40</text>
<path d="M911.6,1215.8 V1223.2" stroke="#0a0a0a" stroke-width="2"/>
<text x="911.6" y="1242.5" font-size="18" font-weight="700" text-anchor="middle" fill="#0a0a0a" >50</text>
<path d="M967.4,1215.8 V1223.2" stroke="#0a0a0a" stroke-width="2"/>
<text x="967.4" y="1242.5" font-size="18" font-weight="700" text-anchor="middle" fill="#0a0a0a" >60</text>
<path d="M1023.3,1215.8 V1223.2" stroke="#0a0a0a" stroke-width="2"/>
<text x="1023.3" y="1242.5" font-size="18" font-weight="700" text-anchor="middle" fill="#0a0a0a" >70</text>
<path d="M1079.1,1215.8 V1223.2" stroke="#0a0a0a" stroke-width="2"/>
<text x="1079.1" y="1242.5" font-size="18" font-weight="700" text-anchor="middle" fill="#0a0a0a" >80</text>
<path d="M799.9,1189.5 V1205.0 M795.2,1205.0 H804.6" stroke="#a3a3a3" stroke-width="1.5" fill="none"/>
<path d="M855.7,1164.2 V1150.7 M851.0,1150.7 H860.4 M855.7,1164.2 V1178.0 M851.0,1178.0 H860.4" stroke="#a3a3a3" stroke-width="1.5" fill="none"/>
<path d="M911.6,1127.5 V1117.2 M906.9,1117.2 H916.3 M911.6,1127.5 V1142.9 M906.9,1142.9 H916.3" stroke="#a3a3a3" stroke-width="1.5" fill="none"/>
<path d="M967.4,1095.9 V1110.0 M962.7,1110.0 H972.1" stroke="#a3a3a3" stroke-width="1.5" fill="none"/>
<path d="M1023.3,1055.8 V1041.7 M1018.6,1041.7 H1028.0" stroke="#a3a3a3" stroke-width="1.5" fill="none"/>
<path d="M1079.1,1005.6 V990.1 M1074.4,990.1 H1083.8" stroke="#a3a3a3" stroke-width="1.5" fill="none"/>
<path d="M799.9,1189.5 L855.7,1164.2 L911.6,1127.5 L967.4,1095.9 L1023.3,1055.8 L1079.1,1005.6" stroke="#a3a3a3" stroke-width="2.0" fill="none" stroke-linejoin="round"/>
<circle cx="799.9" cy="1189.5" r="4.4" fill="#a3a3a3"/>
<circle cx="855.7" cy="1164.2" r="4.4" fill="#a3a3a3"/>
<circle cx="911.6" cy="1127.5" r="4.4" fill="#a3a3a3"/>
<circle cx="967.4" cy="1095.9" r="4.4" fill="#a3a3a3"/>
<circle cx="1023.3" cy="1055.8" r="4.4" fill="#a3a3a3"/>
<circle cx="1079.1" cy="1005.6" r="4.4" fill="#a3a3a3"/>
<path d="M799.9,1185.6 V1175.4 M795.2,1175.4 H804.6 M799.9,1185.6 V1195.4 M795.2,1195.4 H804.6" stroke="#0a0a0a" stroke-width="2.0" fill="none"/>
<path d="M855.7,1166.5 V1159.3 M851.0,1159.3 H860.4 M855.7,1166.5 V1174.7 M851.0,1174.7 H860.4" stroke="#0a0a0a" stroke-width="2.0" fill="none"/>
<path d="M911.6,1128.7 V1121.5 M906.9,1121.5 H916.3 M911.6,1128.7 V1135.3 M906.9,1135.3 H916.3" stroke="#0a0a0a" stroke-width="2.0" fill="none"/>
<path d="M967.4,1093.6 V1084.4 M962.7,1084.4 H972.1 M967.4,1093.6 V1101.5 M962.7,1101.5 H972.1" stroke="#0a0a0a" stroke-width="2.0" fill="none"/>
<path d="M1023.3,1058.1 V1049.9 M1018.6,1049.9 H1028.0 M1023.3,1058.1 V1067.3 M1018.6,1067.3 H1028.0" stroke="#0a0a0a" stroke-width="2.0" fill="none"/>
<path d="M1079.1,1008.2 V998.0 M1074.4,998.0 H1083.8 M1079.1,1008.2 V1018.7 M1074.4,1018.7 H1083.8" stroke="#0a0a0a" stroke-width="2.0" fill="none"/>
<path d="M799.9,1185.6 L855.7,1166.5 L911.6,1128.7 L967.4,1093.6 L1023.3,1058.1 L1079.1,1008.2" stroke="#0a0a0a" stroke-width="2.2" fill="none" stroke-linejoin="round"/>
<circle cx="799.9" cy="1185.6" r="4.9" fill="#0a0a0a"/>
<circle cx="855.7" cy="1166.5" r="4.9" fill="#0a0a0a"/>
<circle cx="911.6" cy="1128.7" r="4.9" fill="#0a0a0a"/>
<circle cx="967.4" cy="1093.6" r="4.9" fill="#0a0a0a"/>
<circle cx="1023.3" cy="1058.1" r="4.9" fill="#0a0a0a"/>
<circle cx="1079.1" cy="1008.2" r="4.9" fill="#0a0a0a"/>
<text x="703.5" y="1096.3" font-size="20" font-weight="700" text-anchor="middle" fill="#0a0a0a" transform="rotate(-90 703.5 1096.3)" textLength="145.8" lengthAdjust="spacingAndGlyphs">Heart rate (BPM)</text>
<text x="902.3" y="1286.5" font-size="19.3" fill="#111">%VO<tspan font-size="13.8" dy="4.3">2max</tspan></text>
<text x="2.0" y="1408.0" font-size="24" font-weight="700" text-anchor="start" fill="#0a0a0a" >G</text>
<path d="M65.0,1435.8 V1672.3" stroke="#0a0a0a" stroke-width="2" fill="none"/>
<path d="M60.0,1672.3 H419.5" stroke="#0a0a0a" stroke-width="2" fill="none"/>
<path d="M59.5,1435.8 H65.0" stroke="#0a0a0a" stroke-width="2"/>
<text x="56.8" y="1443.0" font-size="18" font-weight="700" text-anchor="end" fill="#0a0a0a" >20</text>
<path d="M59.5,1495.0 H65.0" stroke="#0a0a0a" stroke-width="2"/>
<text x="56.8" y="1502.2" font-size="18" font-weight="700" text-anchor="end" fill="#0a0a0a" >15</text>
<path d="M59.5,1554.1 H65.0" stroke="#0a0a0a" stroke-width="2"/>
<text x="56.8" y="1561.3" font-size="18" font-weight="700" text-anchor="end" fill="#0a0a0a" >10</text>
<path d="M59.5,1613.2 H65.0" stroke="#0a0a0a" stroke-width="2"/>
<text x="56.8" y="1620.4" font-size="18" font-weight="700" text-anchor="end" fill="#0a0a0a" >5</text>
<path d="M59.5,1672.3 H65.0" stroke="#0a0a0a" stroke-width="2"/>
<text x="56.8" y="1679.5" font-size="18" font-weight="700" text-anchor="end" fill="#0a0a0a" >0</text>
<path d="M102.8,1672.3 V1679.7" stroke="#0a0a0a" stroke-width="2"/>
<text x="102.8" y="1699.0" font-size="18" font-weight="700" text-anchor="middle" fill="#0a0a0a" >30</text>
<path d="M158.7,1672.3 V1679.7" stroke="#0a0a0a" stroke-width="2"/>
<text x="158.7" y="1699.0" font-size="18" font-weight="700" text-anchor="middle" fill="#0a0a0a" >40</text>
<path d="M214.6,1672.3 V1679.7" stroke="#0a0a0a" stroke-width="2"/>
<text x="214.6" y="1699.0" font-size="18" font-weight="700" text-anchor="middle" fill="#0a0a0a" >50</text>
<path d="M270.4,1672.3 V1679.7" stroke="#0a0a0a" stroke-width="2"/>
<text x="270.4" y="1699.0" font-size="18" font-weight="700" text-anchor="middle" fill="#0a0a0a" >60</text>
<path d="M326.1,1672.3 V1679.7" stroke="#0a0a0a" stroke-width="2"/>
<text x="326.1" y="1699.0" font-size="18" font-weight="700" text-anchor="middle" fill="#0a0a0a" >70</text>
<path d="M382.0,1672.3 V1679.7" stroke="#0a0a0a" stroke-width="2"/>
<text x="382.0" y="1699.0" font-size="18" font-weight="700" text-anchor="middle" fill="#0a0a0a" >80</text>
<path d="M102.8,1578.5 V1574.0 M98.1,1574.0 H107.5 M102.8,1578.5 V1583.0 M98.1,1583.0 H107.5" stroke="#a3a3a3" stroke-width="1.5" fill="none"/>
<path d="M158.7,1567.9 V1563.0 M154.0,1563.0 H163.4 M158.7,1567.9 V1572.5 M154.0,1572.5 H163.4" stroke="#a3a3a3" stroke-width="1.5" fill="none"/>
<path d="M214.6,1554.8 V1560.6 M209.9,1560.6 H219.3" stroke="#a3a3a3" stroke-width="1.5" fill="none"/>
<path d="M270.4,1540.5 V1534.0 M265.7,1534.0 H275.1 M270.4,1540.5 V1547.0 M265.7,1547.0 H275.1" stroke="#a3a3a3" stroke-width="1.5" fill="none"/>
<path d="M326.1,1521.9 V1517.8 M321.4,1517.8 H330.8" stroke="#a3a3a3" stroke-width="1.5" fill="none"/>
<path d="M382.0,1512.2 V1517.8 M377.3,1517.8 H386.7" stroke="#a3a3a3" stroke-width="1.5" fill="none"/>
<path d="M102.8,1578.5 L158.7,1567.9 L214.6,1554.8 L270.4,1540.5 L326.1,1521.9 L382.0,1512.2" stroke="#a3a3a3" stroke-width="2.0" fill="none" stroke-linejoin="round"/>
<circle cx="102.8" cy="1578.5" r="4.4" fill="#a3a3a3"/>
<circle cx="158.7" cy="1567.9" r="4.4" fill="#a3a3a3"/>
<circle cx="214.6" cy="1554.8" r="4.4" fill="#a3a3a3"/>
<circle cx="270.4" cy="1540.5" r="4.4" fill="#a3a3a3"/>
<circle cx="326.1" cy="1521.9" r="4.4" fill="#a3a3a3"/>
<circle cx="382.0" cy="1512.2" r="4.4" fill="#a3a3a3"/>
<path d="M102.8,1578.1 V1573.4 M98.1,1573.4 H107.5 M102.8,1578.1 V1582.8 M98.1,1582.8 H107.5" stroke="#0a0a0a" stroke-width="2.0" fill="none"/>
<path d="M158.7,1565.7 V1561.0 M154.0,1561.0 H163.4 M158.7,1565.7 V1570.6 M154.0,1570.6 H163.4" stroke="#0a0a0a" stroke-width="2.0" fill="none"/>
<path d="M214.6,1550.5 V1544.7 M209.9,1544.7 H219.3 M214.6,1550.5 V1557.1 M209.9,1557.1 H219.3" stroke="#0a0a0a" stroke-width="2.0" fill="none"/>
<path d="M270.4,1540.3 V1533.0 M265.7,1533.0 H275.1 M270.4,1540.3 V1547.0 M265.7,1547.0 H275.1" stroke="#0a0a0a" stroke-width="2.0" fill="none"/>
<path d="M326.1,1524.4 V1517.8 M321.4,1517.8 H330.8 M326.1,1524.4 V1531.4 M321.4,1531.4 H330.8" stroke="#0a0a0a" stroke-width="2.0" fill="none"/>
<path d="M382.0,1507.6 V1499.9 M377.3,1499.9 H386.7 M382.0,1507.6 V1515.0 M377.3,1515.0 H386.7" stroke="#0a0a0a" stroke-width="2.0" fill="none"/>
<path d="M102.8,1578.1 L158.7,1565.7 L214.6,1550.5 L270.4,1540.3 L326.1,1524.4 L382.0,1507.6" stroke="#0a0a0a" stroke-width="2.2" fill="none" stroke-linejoin="round"/>
<circle cx="102.8" cy="1578.1" r="4.9" fill="#0a0a0a"/>
<circle cx="158.7" cy="1565.7" r="4.9" fill="#0a0a0a"/>
<circle cx="214.6" cy="1550.5" r="4.9" fill="#0a0a0a"/>
<circle cx="270.4" cy="1540.3" r="4.9" fill="#0a0a0a"/>
<circle cx="326.1" cy="1524.4" r="4.9" fill="#0a0a0a"/>
<circle cx="382.0" cy="1507.6" r="4.9" fill="#0a0a0a"/>
<text x="16.3" y="1551.3" font-size="20" font-weight="700" text-anchor="middle" fill="#0a0a0a" transform="rotate(-90 16.3 1551.3)" textLength="96.6" lengthAdjust="spacingAndGlyphs">Borg scale</text>
<text x="205.1" y="1743.1" font-size="19.3" fill="#111">%VO<tspan font-size="13.8" dy="4.3">2max</tspan></text>
</svg>
</body></html>
